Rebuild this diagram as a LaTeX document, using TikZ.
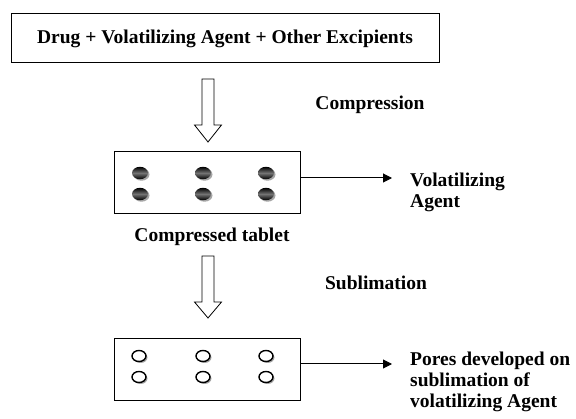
\documentclass[tikz,border=0pt]{standalone}
\usepackage{fontspec}
\setmainfont{Liberation Serif}
\usetikzlibrary{arrows.meta}
\tikzset{
  lbl/.style={font=\bfseries\fontsize{19.5}{21}\selectfont, inner sep=0pt},
  boxed/.style={draw=black, line width=1pt, rectangle, inner sep=0pt},
  blockarrow/.style={draw=black, line width=0.8pt, fill=white, line join=miter},
  linearrow/.style={draw=black, line width=1pt, -{Triangle[length=9pt,width=9pt]}},
  darkpore/.style={top color=black, bottom color=black, middle color=black!55},
  whitepore/.style={draw=black, line width=1.4pt, fill=white},
  poreshadow/.style={fill=black!35}
}
\begin{document}
\begin{tikzpicture}[x=1pt,y=-1pt]
\useasboundingbox (0,0) rectangle (576,419);

% top box
\node[boxed, lbl, minimum width=428pt, minimum height=49pt] (mix) at (225,38.5)
  {Drug + Volatilizing Agent + Other Excipients};

% block arrow 1
\draw[blockarrow] (202,79) -- (214,79) -- (214,125) -- (221.5,125) -- (208,142)
  -- (194.5,125) -- (202,125) -- cycle;
\node[lbl, anchor=base] (comp) at (370,110) {Compression};

% tablet 1
\node[boxed, minimum width=186pt, minimum height=62pt] (t1) at (207,183) {};
\foreach \cx in {140,203,266}{
  \foreach \cy in {173,194}{
    \fill[poreshadow] (\cx+1.5,\cy+1.5) ellipse [x radius=8, y radius=6.2];
    \shade[darkpore] (\cx,\cy) ellipse [x radius=8, y radius=6.2];
  }
}
\node[lbl, anchor=base] (ct) at (212,242) {Compressed tablet};

\coordinate (a1s) at (300,178);
\coordinate (a1e) at (392,178);
\draw[linearrow] (a1s) -- (a1e);
\node[lbl, anchor=north west, align=left] (va) at (410,173) {Volatilizing\\Agent};

% block arrow 2
\draw[blockarrow] (202,256) -- (214,256) -- (214,302) -- (221.5,302) -- (208,318)
  -- (194.5,302) -- (202,302) -- cycle;
\node[lbl, anchor=base] (sub) at (376,290) {Sublimation};

% tablet 2
\node[boxed, minimum width=186pt, minimum height=62pt] (t2) at (207,370) {};
\foreach \cx in {139,203,266}{
  \foreach \cy in {356,377}{
    \fill[poreshadow] (\cx+1.5,\cy+1.5) ellipse [x radius=7, y radius=5.5];
    \draw[whitepore] (\cx,\cy) ellipse [x radius=7, y radius=5.5];
  }
}

\coordinate (a2s) at (300,364);
\coordinate (a2e) at (392,364);
\draw[linearrow] (a2s) -- (a2e);
\node[lbl, anchor=north west, align=left] (pd) at (410,352)
  {Pores developed on\\sublimation of\\volatilizing Agent};
\end{tikzpicture}
\end{document}
